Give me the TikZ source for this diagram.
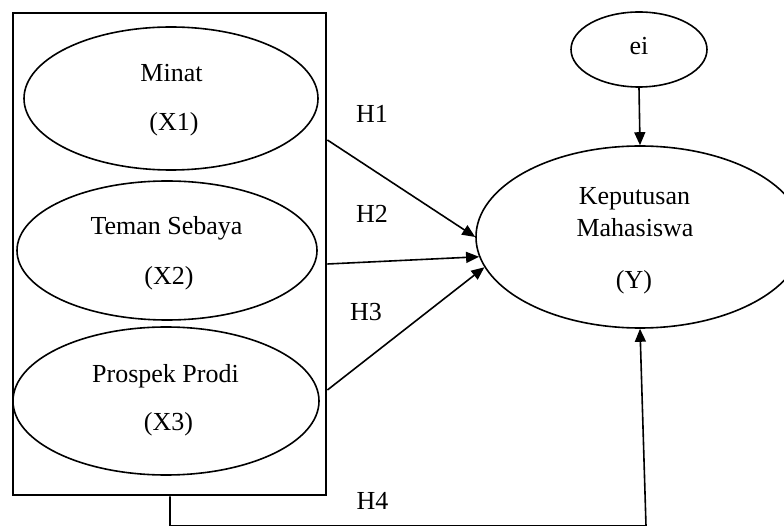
\documentclass[tikz,border=0pt]{standalone}
\usepackage{fontspec}
\setmainfont{Liberation Serif}
\usetikzlibrary{shapes.geometric,arrows.meta,calc}
\begin{document}
\begin{tikzpicture}[x=1pt,y=1pt,
  oval/.style={draw,ellipse,line width=1.6pt,inner sep=0pt},
  lbl/.style={anchor=base,inner sep=0pt,font=\fontsize{26}{30}\selectfont},
  conn/.style={line width=1.6pt,-{Triangle[length=13pt,width=11pt]}},
  box/.style={draw,line width=2.8pt,inner sep=0pt}]
\useasboundingbox (0,0) rectangle (784,-526);
\node[box,minimum width=313pt,minimum height=482pt] (grp) at (169.5,-254) {};
\node[oval,minimum width=294pt,minimum height=143pt] (e1) at (171,-98.5) {};
\node[oval,minimum width=300pt,minimum height=139pt] (e2) at (167,-250.5) {};
\node[oval,minimum width=306pt,minimum height=148pt] (e3) at (166,-401) {};
\node[oval,minimum width=136pt,minimum height=75pt] (ei) at (639,-49.5) {};
\node[oval,minimum width=328pt,minimum height=182pt] (Y) at (640,-237) {};
\node[lbl] (t1a) at (171.5,-82) {Minat};
\node[lbl] (t1b) at (174,-131) {(X1)};
\node[lbl] (t2a) at (166.5,-235) {Teman Sebaya};
\node[lbl] (t2b) at (169,-285) {(X2)};
\node[lbl] (t3a) at (165.5,-382) {Prospek Prodi};
\node[lbl] (t3b) at (168.5,-430) {(X3)};
\node[lbl] (tei) at (639,-55) {ei};
\node[lbl] (ty1) at (634.5,-205) {Keputusan};
\node[lbl] (ty2) at (635,-237) {Mahasiswa};
\node[lbl] (ty3) at (634,-289) {(Y)};
\node[lbl] (h1) at (372,-123) {H1};
\node[lbl] (h2) at (372,-223) {H2};
\node[lbl] (h3) at (366,-321) {H3};
\node[lbl] (h4) at (372.5,-509) {H4};
\draw[conn] (grp.east |- 0,-140) -- (Y.west);
\draw[conn] (grp.east |- 0,-264) -- (Y.187);
\draw[conn] (grp.east |- 0,-390) -- (Y.191);
\draw[conn] (ei.south) -- (Y.north);
\coordinate (c1) at (170,-526);
\coordinate (c2) at (646,-526);
\draw[conn] (grp.south -| c1) -- (c1) -- (c2) -- (Y.south);
\end{tikzpicture}
\end{document}
